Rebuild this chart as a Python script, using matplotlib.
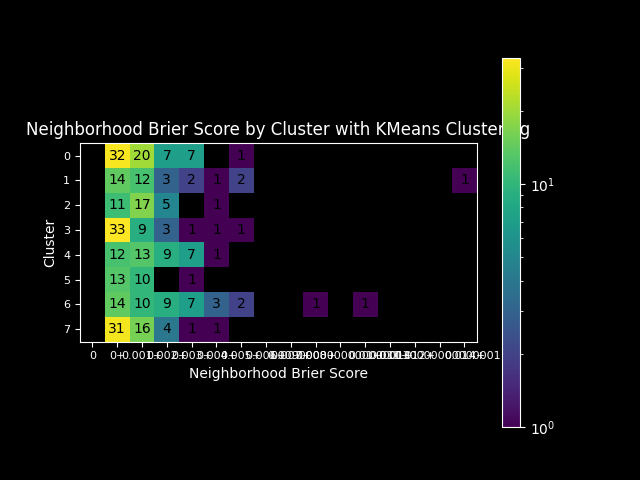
import numpy as np
import matplotlib
matplotlib.use("Agg")
import matplotlib.pyplot as plt
from matplotlib.colors import LogNorm

plt.style.use("dark_background")

clusters = ["0", "1", "2", "3", "4", "5", "6", "7"]
score_bins = ["0", "0+", "0.001+", "0.002+", "0.003+", "0.004+", "0.005+", "0.006+",
              "0.007+", "0.008+", "0.009000000000000001+", "0.01+", "0.011+", "0.012+",
              "0.0130000000000001", "0.014+"]

# 0 = empty cell
counts = [
    [0, 32, 20, 7, 7, 0, 1, 0, 0, 0, 0, 0, 0, 0, 0, 0],
    [0, 14, 12, 3, 2, 1, 2, 0, 0, 0, 0, 0, 0, 0, 0, 1],
    [0, 11, 17, 5, 0, 1, 0, 0, 0, 0, 0, 0, 0, 0, 0, 0],
    [0, 33, 9, 3, 1, 1, 1, 0, 0, 0, 0, 0, 0, 0, 0, 0],
    [0, 12, 13, 9, 7, 1, 0, 0, 0, 0, 0, 0, 0, 0, 0, 0],
    [0, 13, 10, 0, 1, 0, 0, 0, 0, 0, 0, 0, 0, 0, 0, 0],
    [0, 14, 10, 9, 7, 3, 2, 0, 0, 1, 0, 1, 0, 0, 0, 0],
    [0, 31, 16, 4, 1, 1, 0, 0, 0, 0, 0, 0, 0, 0, 0, 0],
]

counts = np.array(counts)
masked = np.ma.masked_equal(counts, 0)

fig, ax = plt.subplots(figsize=(6.4, 4.8))
mesh = ax.pcolormesh(masked, cmap="viridis", norm=LogNorm(vmin=1, vmax=counts.max()))
ax.set_aspect("equal")
ax.invert_yaxis()

for row in range(counts.shape[0]):
    for col in range(counts.shape[1]):
        if counts[row, col] > 0:
            ax.text(col + 0.5, row + 0.5, str(counts[row, col]), color="black",
                    ha="center", va="center", fontsize=10)

ax.set_xticks(np.arange(len(score_bins)) + 0.5)
ax.set_xticklabels(score_bins, fontsize=8)
ax.set_yticks(np.arange(len(clusters)) + 0.5)
ax.set_yticklabels(clusters, fontsize=8)
ax.set_xlabel("Neighborhood Brier Score")
ax.set_ylabel("Cluster")
ax.set_title("Neighborhood Brier Score by Cluster with KMeans Clustering")

fig.colorbar(mesh, ax=ax)
fig.savefig("out.png", dpi=100)
